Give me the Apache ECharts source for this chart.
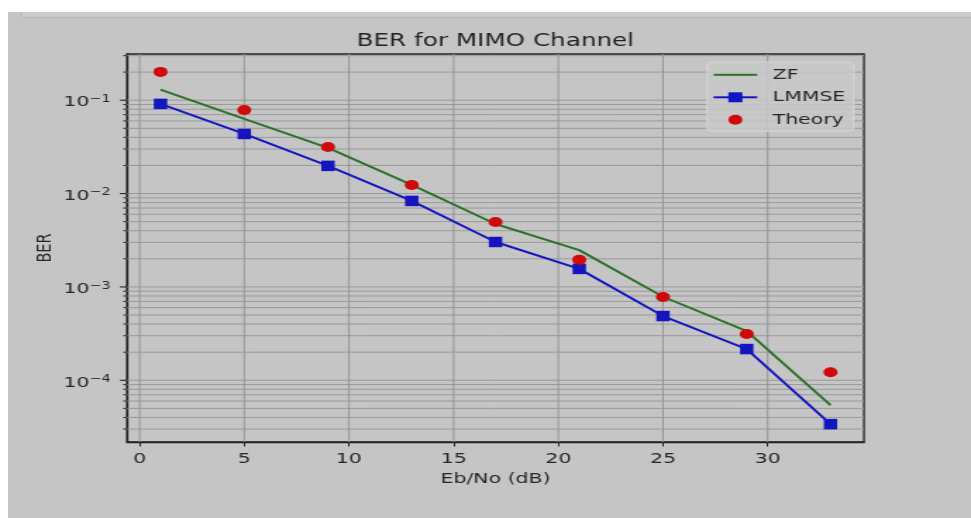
<!DOCTYPE html>
<html>
<head>
<meta charset="utf-8">
<script src="https://cdn.jsdelivr.net/npm/echarts@6/dist/echarts.min.js"></script>
<style>
  html, body { margin: 0; padding: 0; width: 971px; height: 518px; overflow: hidden; background: #ffffff; }
  #frame { position: absolute; left: 8px; top: 12px; width: 963px; height: 506px; background: #c5c5c5; }
  #band { position: absolute; left: 21px; top: 12px; width: 950px; height: 5px; background: #cbcbcb; border-bottom: 1px solid #b9b9b9; border-left: 1px solid #b9b9b9; }
  #chart { position: absolute; left: 0; top: 0; width: 689px; height: 518px; transform-origin: 0 0; transform: scaleX(1.40929); }
</style>
</head>
<body>
<div id="frame"></div>
<div id="band"></div>
<div id="chart"></div>
<script>
// ---- data ----
const snr    = [1, 5, 9, 13, 17, 21, 25, 29, 33];
const zf     = [0.130, 0.0630, 0.0308, 0.0124, 0.00472, 0.00248, 0.000785, 0.000337, 0.0000542];
const lmmse  = [0.0913, 0.0435, 0.0198, 0.00834, 0.00303, 0.00156, 0.000488, 0.000216, 0.0000339];
const theory = [0.201, 0.0787, 0.0316, 0.01236, 0.00496, 0.00195, 0.00078, 0.000313, 0.000122];

const xTicks = [0, 5, 10, 15, 20, 25, 30];
const yDecades = [1e-5, 1e-4, 1e-3, 1e-2, 1e-1];
const yMinorMult = [2, 3, 4, 5, 6, 7, 8, 9];

const X_MIN = -0.6, X_MAX = 34.6;
const Y_MIN = Math.pow(10, -4.661), Y_MAX = Math.pow(10, -0.505);
const FONT = 'DejaVu Sans';
const TXT = '#262626';

// grid tick values (major + minor) for the log axis
const yGrid = [];
yDecades.forEach(d => {
  if (d >= Y_MIN && d <= Y_MAX) yGrid.push([X_MIN, d, 1]);
  yMinorMult.forEach(m => { const v = d * m; if (v >= Y_MIN && v <= Y_MAX) yGrid.push([X_MIN, v, 0]); });
});
const xGrid = xTicks.map(t => [t, Y_MIN]);

const pair = arr => snr.map((x, i) => [x, arr[i]]);

const chart = echarts.init(document.getElementById('chart'), null, { renderer: 'canvas' });
chart.setOption({
  animation: false,
  backgroundColor: 'transparent',
  title: {
    text: 'BER for MIMO Channel',
    left: 346.5, top: 27, textAlign: 'center',
    textStyle: { fontFamily: FONT, fontSize: 17.5, fontWeight: 'normal', color: '#222' }
  },
  legend: {
    orient: 'vertical', left: 501.7, top: 62,
    itemWidth: 31, itemHeight: 12.5, itemGap: 7.5,
    padding: [5.3, 6, 4, 3.6],
    backgroundColor: 'rgba(200,200,200,0.85)', borderColor: '#d6d6d6', borderWidth: 1, borderRadius: 3,
    textStyle: { fontFamily: FONT, fontSize: 14.5, color: TXT, padding: [0, 0, 0, 6] },
    data: [
      { name: 'ZF', itemStyle: { opacity: 0 } },
      { name: 'LMMSE' },
      { name: 'Theory', lineStyle: { opacity: 0 } }
    ]
  },
  grid: {
    left: 90.12, right: 75.93, top: 54, bottom: 76,
    show: true, borderColor: '#222', borderWidth: 1.3, backgroundColor: 'transparent'
  },
  xAxis: {
    type: 'value', min: X_MIN, max: X_MAX,
    name: 'Eb/No (dB)', nameLocation: 'middle', nameGap: 30, nameMoveOverlap: false,
    nameTextStyle: { fontFamily: FONT, fontSize: 14.5, color: TXT },
    axisLine: { show: true, onZero: false, lineStyle: { color: '#222', width: 1.3 } },
    axisTick: { show: true, length: 4.5, customValues: xTicks, lineStyle: { color: '#222', width: 1 } },
    axisLabel: { customValues: xTicks, margin: 9.5, fontFamily: FONT, fontSize: 14.5, color: TXT },
    splitLine: { show: false }
  },
  yAxis: {
    type: 'log', logBase: 10, min: Y_MIN, max: Y_MAX,
    name: 'BER', nameLocation: 'middle', nameGap: 50, nameMoveOverlap: false,
    nameTextStyle: { fontFamily: FONT, fontSize: 14.5, color: TXT },
    axisLine: { show: true, onZero: false, lineStyle: { color: '#222', width: 1.3 } },
    axisTick: { show: false },
    splitLine: { show: false },
    minorTick: { show: false },
    axisLabel: {
      margin: 11.6, padding: [5, 0, 0, 0],
      formatter: function (v) {
        const e = Math.log10(v); const n = Math.round(e);
        if (Math.abs(e - n) > 1e-6) return '';
        return '{b|10}{s|' + (n < 0 ? '\u2212' : '') + Math.abs(n) + '}';
      },
      rich: {
        b: { fontFamily: FONT, fontSize: 14.5, color: TXT },
        s: { fontFamily: FONT, fontSize: 10.2, color: TXT, padding: [0, 0, 7, 0] }
      }
    }
  },
  series: [
    {
      type: 'custom', name: 'hgrid', silent: true, z: 1, clip: false,
      encode: { x: 0, y: 1 }, data: yGrid,
      renderItem: function (params, api) {
        const v = api.value(1), major = api.value(2);
        const p0 = api.coord([X_MIN, v]), p1 = api.coord([X_MAX, v]);
        const len = major ? 5 : 2.8;
        return { type: 'group', children: [
          { type: 'line', shape: { x1: p0[0], y1: p0[1], x2: p1[0], y2: p1[1] }, style: { stroke: '#999999', lineWidth: 1 } },
          { type: 'line', shape: { x1: p0[0] - len, y1: p0[1], x2: p0[0], y2: p0[1] }, style: { stroke: '#222', lineWidth: major ? 1.1 : 0.9 } }
        ] };
      }
    },
    {
      type: 'custom', name: 'vgrid', silent: true, z: 1, clip: false,
      encode: { x: 0, y: 1 }, data: xGrid,
      renderItem: function (params, api) {
        const x = api.value(0);
        const p0 = api.coord([x, Y_MIN]), p1 = api.coord([x, Y_MAX]);
        return { type: 'line', shape: { x1: p0[0], y1: p0[1], x2: p1[0], y2: p1[1] }, style: { stroke: '#959595', lineWidth: 1 } };
      }
    },
    {
      name: 'ZF', type: 'line', z: 3, data: pair(zf),
      symbol: 'none', color: '#2a712a',
      lineStyle: { color: '#2a712a', width: 2 }
    },
    {
      name: 'LMMSE', type: 'line', z: 4, data: pair(lmmse),
      symbol: 'rect', symbolSize: [9.5, 10.5], color: '#1515c0',
      itemStyle: { color: '#1515c0' },
      lineStyle: { color: '#1515c0', width: 2 }
    },
    {
      name: 'Theory', type: 'line', z: 5, data: pair(theory),
      symbol: 'circle', symbolSize: 10, color: '#d00a0a',
      itemStyle: { color: '#d00a0a' },
      lineStyle: { width: 0, opacity: 0 }
    }
  ]
});
</script>
</body>
</html>
